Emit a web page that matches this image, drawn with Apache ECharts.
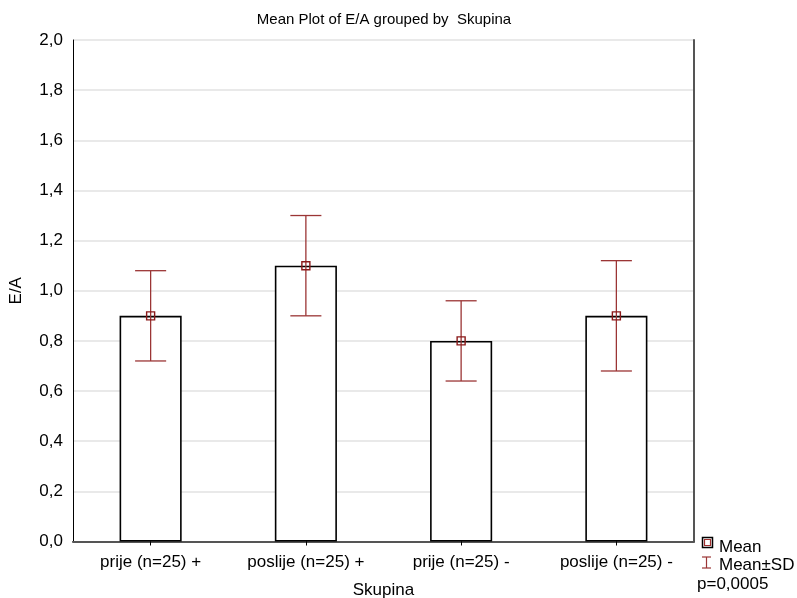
<!DOCTYPE html>
<html>
<head>
<meta charset="utf-8">
<script src="https://cdn.jsdelivr.net/npm/echarts@6/dist/echarts.min.js"></script>
<style>
html,body{margin:0;padding:0;background:#fff;}
#chart{width:797px;height:598px;}
</style>
</head>
<body>
<div id="chart"></div>
<script>
const categories = ['prije (n=25) +', 'poslije (n=25) +', 'prije (n=25) -', 'poslije (n=25) -'];
const means = [0.90, 1.10, 0.80, 0.90];
const sdLower = [0.72, 0.90, 0.64, 0.68];
const sdUpper = [1.08, 1.30, 0.96, 1.12];
const yTicks = [0, 0.2, 0.4, 0.6, 0.8, 1.0, 1.2, 1.4, 1.6, 1.8, 2.0];

const FONT = '"Liberation Sans", Arial, sans-serif';
const RED = '#9b3535';
const FS = 17;

const chart = echarts.init(document.getElementById('chart'), null, {renderer: 'canvas'});
const errData = categories.map((c, i) => [i, sdLower[i], sdUpper[i]]);

chart.setOption({
  animation: false,
  backgroundColor: '#fff',
  title: {
    text: 'Mean Plot of E/A grouped by  Skupina',
    left: 379, top: 7, textAlign: 'center',
    textStyle: {fontFamily: FONT, fontSize: 15, fontWeight: 'normal', color: '#000'}
  },
  grid: {left: 73, right: 103, top: 40, bottom: 56.5, containLabel: false, outerBoundsMode: 'none'},
  xAxis: [{
    type: 'category', data: categories, position: 'bottom',
    name: 'Skupina', nameLocation: 'middle', nameGap: 40,
    nameTextStyle: {fontFamily: FONT, fontSize: FS, color: '#000'},
    axisLine: {lineStyle: {color: '#000', width: 1}},
    axisTick: {show: true, inside: true, alignWithLabel: true, length: 3, lineStyle: {color: '#000'}},
    axisLabel: {fontFamily: FONT, fontSize: FS, color: '#000', margin: 12},
    splitLine: {show: false}
  }, {
    type: 'category', data: categories, position: 'top',
    axisLine: {lineStyle: {color: '#555', width: 2}},
    axisTick: {show: true, inside: true, alignWithLabel: true, length: 4, lineStyle: {color: '#000'}},
    axisLabel: {show: false}
  }],
  yAxis: [{
    type: 'value', min: 0, max: 2, interval: 0.2, position: 'left',
    name: 'E/A', nameLocation: 'middle', nameGap: 48, nameRotate: 90,
    nameTextStyle: {fontFamily: FONT, fontSize: FS, color: '#000'},
    axisLine: {show: true, lineStyle: {color: '#000', width: 1}},
    axisTick: {show: false},
    axisLabel: {fontFamily: FONT, fontSize: FS, color: '#000', margin: 10,
      formatter: v => v.toFixed(1).replace('.', ',')},
    splitLine: {show: true, lineStyle: {color: '#e2e2e2', width: 1.5}}
  }, {
    type: 'value', min: 0, max: 2, interval: 0.2, position: 'right',
    axisLine: {show: true, lineStyle: {color: '#555', width: 2}},
    axisTick: {show: false}, axisLabel: {show: false}, splitLine: {show: false}
  }],
  series: [{
    type: 'bar', data: means, barWidth: '40%', xAxisIndex: 0, yAxisIndex: 0,
    itemStyle: {color: '#fff', borderColor: '#000', borderWidth: 1.6},
    z: 2
  }, {
    type: 'custom', data: errData, xAxisIndex: 0, yAxisIndex: 0, z: 3,
    renderItem: function (params, api) {
      const idx = api.value(0);
      const top = api.coord([idx, api.value(2)]);
      const bot = api.coord([idx, api.value(1)]);
      const half = api.size([1, 0])[0] * 0.1;
      const style = {stroke: RED, lineWidth: 1.3};
      return {type: 'group', children: [
        {type: 'line', shape: {x1: top[0], y1: top[1], x2: bot[0], y2: bot[1]}, style: style},
        {type: 'line', shape: {x1: top[0] - half, y1: top[1], x2: top[0] + half, y2: top[1]}, style: style},
        {type: 'line', shape: {x1: bot[0] - half, y1: bot[1], x2: bot[0] + half, y2: bot[1]}, style: style}
      ]};
    }
  }, {
    type: 'scatter', data: means, xAxisIndex: 0, yAxisIndex: 0, z: 4,
    symbol: 'rect', symbolSize: 8,
    itemStyle: {color: 'rgba(0,0,0,0)', borderColor: '#8b1a1a', borderWidth: 1.4, opacity: 1}
  }],
  graphic: [
    {type: 'rect', shape: {x: 702.5, y: 537.5, width: 10, height: 10}, style: {fill: 'none', stroke: '#000', lineWidth: 1.5}},
    {type: 'rect', shape: {x: 704.5, y: 539.5, width: 6, height: 6}, style: {fill: 'none', stroke: '#a03030', lineWidth: 1.2}},
    {type: 'text', x: 719, y: 547, style: {text: 'Mean', fontFamily: FONT, fontSize: FS, fill: '#000', verticalAlign: 'middle'}},
    {type: 'line', shape: {x1: 706.5, y1: 557, x2: 706.5, y2: 568}, style: {stroke: RED, lineWidth: 1.2}},
    {type: 'line', shape: {x1: 702, y1: 557, x2: 711, y2: 557}, style: {stroke: RED, lineWidth: 1.2}},
    {type: 'line', shape: {x1: 702, y1: 568, x2: 711, y2: 568}, style: {stroke: RED, lineWidth: 1.2}},
    {type: 'text', x: 719, y: 565, style: {text: 'Mean±SD', fontFamily: FONT, fontSize: FS, fill: '#000', verticalAlign: 'middle'}},
    {type: 'text', x: 697, y: 584, style: {text: 'p=0,0005', fontFamily: FONT, fontSize: FS, fill: '#000', verticalAlign: 'middle'}}
  ]
});
</script>
</body>
</html>
